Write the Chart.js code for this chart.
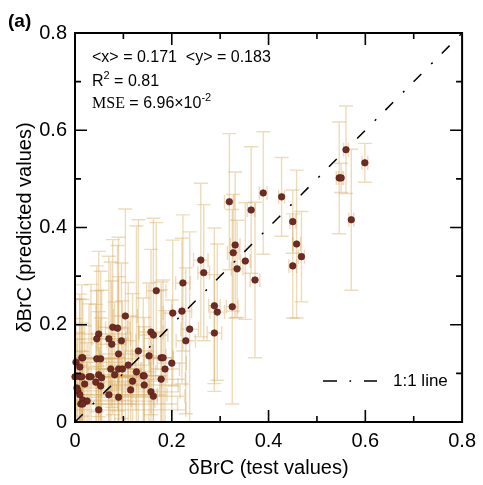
<!DOCTYPE html>
<html>
<head>
<meta charset="utf-8">
<script src="https://cdn.jsdelivr.net/npm/chart.js@4/dist/chart.umd.min.js"></script>
<style>
  html, body { margin: 0; padding: 0; background: #fff; }
  #wrap { width: 483px; height: 485px; }
</style>
</head>
<body>
<div id="wrap"><canvas id="scatterChart"></canvas></div>
<script>
// test values (x), predicted values (y) and their uncertainties
const xs = [0.560, 0.546, 0.550, 0.599, 0.571, 0.389, 0.427, 0.319, 0.364, 0.450,
            0.458, 0.468, 0.450, 0.372, 0.331, 0.327, 0.352, 0.335, 0.260, 0.266,
            0.223, 0.288, 0.294, 0.325, 0.221, 0.202, 0.237, 0.288, 0.168, 0.104,
            0.078, 0.088, 0.049, 0.157, 0.162, 0.229, 0.045, 0.070, 0.076, 0.096,
            0.131, 0.178, 0.182, 0.153, 0.090, 0.200, 0.045, 0.053, 0.014, 0.016,
            0.002, 0.010, 0.186, 0.074, 0.090, 0.098, 0.110, 0.127, 0.049, 0.055,
            0.082, 0.000, 0.010, 0.014, 0.029, 0.033, 0.141, 0.143, 0.178, 0.119,
            0.020, 0.043, 0.053, 0.004, 0.006, 0.115, 0.143, 0.157, 0.162, 0.070,
            0.090, 0.010, 0.016, 0.025, 0.012, 0.016, 0.049];
const ys = [0.560, 0.502, 0.502, 0.533, 0.416, 0.471, 0.463, 0.453, 0.436, 0.412,
            0.366, 0.340, 0.321, 0.292, 0.364, 0.348, 0.331, 0.315, 0.333, 0.307,
            0.286, 0.239, 0.226, 0.237, 0.228, 0.224, 0.191, 0.183, 0.270, 0.218,
            0.195, 0.193, 0.181, 0.185, 0.179, 0.167, 0.171, 0.171, 0.160, 0.167,
            0.146, 0.132, 0.132, 0.136, 0.140, 0.121, 0.130, 0.130, 0.132, 0.132,
            0.123, 0.113, 0.109, 0.109, 0.109, 0.109, 0.117, 0.103, 0.097, 0.091,
            0.097, 0.093, 0.093, 0.093, 0.093, 0.093, 0.095, 0.095, 0.088, 0.084,
            0.078, 0.082, 0.074, 0.070, 0.064, 0.066, 0.076, 0.062, 0.053, 0.056,
            0.051, 0.056, 0.045, 0.043, 0.037, 0.037, 0.025];
const xErr = [0.005, 0.006, 0.005, 0.006, 0.005, 0.008, 0.006, 0.010, 0.008, 0.006,
              0.008, 0.006, 0.008, 0.010, 0.010, 0.012, 0.010, 0.012, 0.015, 0.012,
              0.015, 0.012, 0.015, 0.012, 0.020, 0.020, 0.018, 0.015, 0.020, 0.025,
              0.030, 0.025, 0.060, 0.025, 0.030, 0.020, 0.070, 0.035, 0.030, 0.030,
              0.030, 0.025, 0.020, 0.035, 0.040, 0.030, 0.080, 0.040, 0.090, 0.035,
              0.100, 0.040, 0.030, 0.050, 0.045, 0.040, 0.045, 0.040, 0.060, 0.090,
              0.055, 0.110, 0.050, 0.120, 0.060, 0.090, 0.050, 0.045, 0.050, 0.060,
              0.130, 0.070, 0.100, 0.150, 0.080, 0.060, 0.070, 0.060, 0.065, 0.120,
              0.080, 0.160, 0.100, 0.140, 0.200, 0.110, 0.180];
const yErr = [0.090, 0.115, 0.030, 0.040, 0.145, 0.126, 0.081, 0.140, 0.130, 0.065,
              0.152, 0.093, 0.107, 0.160, 0.150, 0.120, 0.120, 0.100, 0.158, 0.140,
              0.140, 0.160, 0.140, 0.200, 0.150, 0.150, 0.200, 0.120, 0.140, 0.220,
              0.180, 0.170, 0.170, 0.170, 0.240, 0.150, 0.150, 0.170, 0.130, 0.160,
              0.270, 0.140, 0.160, 0.150, 0.240, 0.130, 0.140, 0.180, 0.150, 0.120,
              0.130, 0.150, 0.120, 0.220, 0.190, 0.140, 0.170, 0.300, 0.130, 0.180,
              0.150, 0.120, 0.160, 0.110, 0.150, 0.190, 0.160, 0.120, 0.200, 0.180,
              0.120, 0.160, 0.140, 0.100, 0.120, 0.150, 0.120, 0.110, 0.130, 0.120,
              0.140, 0.090, 0.100, 0.120, 0.080, 0.100, 0.090];
const axisMin = 0;
const axisMax = 0.8;
const identityLine = [{ x: 0, y: 0 }, { x: 0.8, y: 0.8 }];

const FONT = "'Liberation Sans', Arial, sans-serif";
const SERIF = "'Liberation Serif', 'Times New Roman', serif";

function tickLabel(v) {
  const k = Math.round(v * 10);
  if (k % 2 !== 0) return "";
  return k === 0 ? "0" : (k / 10).toFixed(1);
}

// error bars, drawn behind the markers
const errorBars = {
  id: "errorBars",
  beforeDatasetsDraw(chart) {
    const { ctx, chartArea, scales: { x, y } } = chart;
    ctx.save();
    ctx.beginPath();
    ctx.rect(chartArea.left, chartArea.top, chartArea.width, chartArea.height);
    ctx.clip();
    ctx.strokeStyle = "rgba(215, 170, 90, 0.42)";
    ctx.lineWidth = 1.4;
    const cap = 7;
    xs.forEach((xv, i) => {
      const px = x.getPixelForValue(xv);
      const py = y.getPixelForValue(ys[i]);
      const y0 = y.getPixelForValue(ys[i] - yErr[i]);
      const y1 = y.getPixelForValue(ys[i] + yErr[i]);
      ctx.beginPath();
      ctx.moveTo(px, y0); ctx.lineTo(px, y1);
      ctx.moveTo(px - cap, y0); ctx.lineTo(px + cap, y0);
      ctx.moveTo(px - cap, y1); ctx.lineTo(px + cap, y1);
      const x0 = x.getPixelForValue(xv - xErr[i]);
      const x1 = x.getPixelForValue(xv + xErr[i]);
      if (x1 - x0 > 4) {
        ctx.moveTo(x0, py); ctx.lineTo(x1, py);
        ctx.moveTo(x0, py - cap); ctx.lineTo(x0, py + cap);
        ctx.moveTo(x1, py - cap); ctx.lineTo(x1, py + cap);
      }
      ctx.stroke();
    });
    ctx.restore();
  }
};

// box frame with inward ticks on all four sides, plus the text overlays
const frameAndText = {
  id: "frameAndText",
  afterDraw(chart) {
    const { ctx, chartArea: a, scales: { x, y } } = chart;
    ctx.save();
    ctx.strokeStyle = "#000";
    ctx.lineWidth = 2;
    ctx.strokeRect(a.left, a.top, a.width, a.height);
    ctx.lineWidth = 1.6;
    ctx.beginPath();
    x.ticks.forEach(t => {
      if (t.value <= axisMin + 1e-6 || t.value >= axisMax - 1e-6) return;
      const len = Math.round(t.value * 10) % 2 === 0 ? 12 : 6;
      const px = x.getPixelForValue(t.value);
      ctx.moveTo(px, a.bottom); ctx.lineTo(px, a.bottom - len);
      ctx.moveTo(px, a.top); ctx.lineTo(px, a.top + len);
    });
    y.ticks.forEach(t => {
      if (t.value <= axisMin + 1e-6 || t.value >= axisMax - 1e-6) return;
      const len = Math.round(t.value * 10) % 2 === 0 ? 12 : 6;
      const py = y.getPixelForValue(t.value);
      ctx.moveTo(a.left, py); ctx.lineTo(a.left + len, py);
      ctx.moveTo(a.right, py); ctx.lineTo(a.right - len, py);
    });
    ctx.stroke();

    // panel label
    ctx.fillStyle = "#000";
    ctx.textBaseline = "middle";
    ctx.textAlign = "left";
    ctx.font = "bold 19px " + FONT;
    ctx.fillText("(a)", 8, 22);

    // statistics
    const tx = 92;
    ctx.font = "16px " + FONT;
    ctx.fillText("<x> = 0.171  <y> = 0.183", tx, 58);
    ctx.fillText("R", tx, 82);
    let w = ctx.measureText("R").width;
    ctx.font = "11px " + FONT;
    ctx.fillText("2", tx + w, 76);
    let w2 = ctx.measureText("2").width;
    ctx.font = "16px " + FONT;
    ctx.fillText(" = 0.81", tx + w + w2, 82);

    ctx.font = "16px " + SERIF;
    ctx.fillText("MSE", tx, 104);
    w = ctx.measureText("MSE").width;
    ctx.font = "16px " + FONT;
    const part = " = 6.96\u00d710";
    ctx.fillText(part, tx + w, 104);
    w2 = ctx.measureText(part).width;
    ctx.font = "11px " + FONT;
    ctx.fillText("-2", tx + w + w2, 98);

    // legend for the 1:1 line
    const ly = 381;
    ctx.lineWidth = 1.5;
    ctx.beginPath();
    ctx.moveTo(323, ly); ctx.lineTo(337, ly);
    ctx.moveTo(364, ly); ctx.lineTo(377, ly);
    ctx.stroke();
    ctx.fillRect(349.5, ly - 0.8, 1.6, 1.6);
    ctx.font = "17px " + FONT;
    ctx.fillText("1:1 line", 393, ly);
    ctx.restore();
  }
};

const ctx = document.getElementById("scatterChart").getContext("2d");
new Chart(ctx, {
  type: "scatter",
  data: {
    datasets: [
      {
        label: "1:1 line",
        type: "line",
        data: identityLine,
        borderColor: "#000",
        borderWidth: 1.5,
        borderDash: [11, 14, 2, 13],
        pointRadius: 0,
        fill: false,
        order: 2
      },
      {
        label: "samples",
        data: xs.map((xv, i) => ({ x: xv, y: ys[i] })),
        backgroundColor: "#6e2b24",
        borderColor: "#581e18",
        borderWidth: 0.6,
        pointRadius: 3.3,
        clip: false,
        order: 1
      }
    ]
  },
  options: {
    responsive: true,
    maintainAspectRatio: false,
    animation: false,
    layout: { padding: { left: 0, top: 33, right: 17, bottom: 0 } },
    plugins: {
      legend: { display: false },
      tooltip: { enabled: false }
    },
    scales: {
      x: {
        type: "linear",
        min: axisMin,
        max: axisMax,
        grid: { display: false, drawTicks: false },
        border: { display: false },
        ticks: {
          stepSize: 0.1,
          autoSkip: false,
          maxRotation: 0,
          padding: 7,
          color: "#000",
          font: { size: 20, family: FONT },
          callback: v => tickLabel(v)
        },
        title: {
          display: true,
          text: "\u03b4BrC (test values)",
          color: "#000",
          font: { size: 20, family: FONT },
          padding: { top: 0, bottom: 5 }
        },
        afterFit: s => { s.height = 63; }
      },
      y: {
        type: "linear",
        min: axisMin,
        max: axisMax,
        grid: { display: false, drawTicks: false },
        border: { display: false },
        ticks: {
          stepSize: 0.1,
          autoSkip: false,
          padding: 8,
          color: "#000",
          font: { size: 20, family: FONT },
          callback: v => tickLabel(v)
        },
        title: {
          display: true,
          text: "\u03b4BrC (predicted values)",
          color: "#000",
          font: { size: 20, family: FONT },
          padding: { top: 13, bottom: 0 }
        },
        afterFit: s => { s.width = 75; }
      }
    }
  },
  plugins: [errorBars, frameAndText]
});
</script>
</body>
</html>
